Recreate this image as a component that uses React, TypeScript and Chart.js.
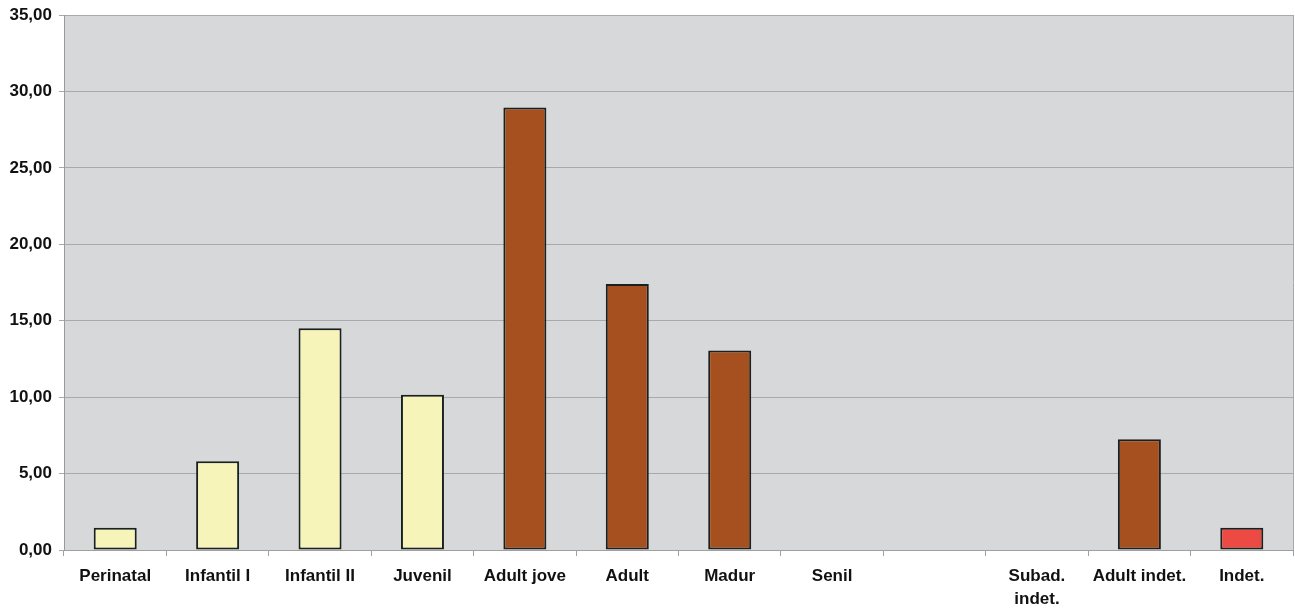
import React, { useEffect, useRef } from "react";
import { Chart, registerables } from "chart.js";

Chart.register(...registerables);

const categories: (string | string[])[] = [
  "Perinatal",
  "Infantil I",
  "Infantil II",
  "Juvenil",
  "Adult jove",
  "Adult",
  "Madur",
  "Senil",
  "",
  ["Subad.", "indet."],
  "Adult indet.",
  "Indet.",
];
const values: number[] = [1.45, 5.8, 14.5, 10.15, 28.95, 17.4, 13.05, 0, 0, 0, 7.25, 1.45];
const barColors: string[] = [
  "#f6f4b8",
  "#f6f4b8",
  "#f6f4b8",
  "#f6f4b8",
  "#a65020",
  "#a65020",
  "#a65020",
  "#a65020",
  "#a65020",
  "#f6f4b8",
  "#a65020",
  "#ee4a44",
];
const yMin = 0;
const yMax = 35;
const yStep = 5;

const plotBg = {
  id: "plotBg",
  beforeDraw(chart: any) {
    const { ctx, chartArea } = chart;
    ctx.save();
    ctx.fillStyle = "#d7d8da";
    ctx.fillRect(chartArea.left, chartArea.top, chartArea.right - chartArea.left, chartArea.bottom - chartArea.top);
    ctx.restore();
  },
  afterDraw(chart: any) {
    const { ctx, chartArea } = chart;
    ctx.save();
    ctx.strokeStyle = "#a9a9ab";
    ctx.lineWidth = 1;
    ctx.beginPath();
    ctx.moveTo(chartArea.right + 0.5, chartArea.top);
    ctx.lineTo(chartArea.right + 0.5, chartArea.bottom);
    ctx.stroke();
    ctx.restore();
  },
};

export default function App() {
  const ref = useRef<HTMLCanvasElement>(null);
  useEffect(() => {
    document.body.style.margin = "0";
    const chart = new Chart(ref.current!, {
      type: "bar",
      data: {
        labels: categories,
        datasets: [
          {
            data: values,
            backgroundColor: barColors,
            borderColor: "#1a2020",
            borderWidth: 2,
            borderSkipped: false,
            barPercentage: 0.42,
            categoryPercentage: 1,
          },
        ],
      },
      options: {
        animation: false,
        responsive: false,
        maintainAspectRatio: false,
        layout: { padding: { top: 15, right: 2, left: 0, bottom: 0 } },
        plugins: { legend: { display: false }, tooltip: { enabled: false } },
        scales: {
          x: {
            offset: true,
            grid: {
              offset: true,
              drawOnChartArea: false,
              drawTicks: true,
              tickLength: 6,
              color: "#a0a0a0",
            },
            border: { color: "#a0a0a0", width: 1 },
            ticks: {
              color: "#111",
              padding: 9,
              maxRotation: 0,
              autoSkip: false,
              font: { family: "'Liberation Sans', Arial, sans-serif", size: 17, weight: "bold", lineHeight: 1.35 },
            },
            afterFit(scale: any) {
              scale.height = 58;
            },
          },
          y: {
            min: yMin,
            max: yMax,
            grid: { color: "#a9a9ab", tickLength: 5, drawTicks: true },
            border: { color: "#9a9a9a", width: 1 },
            ticks: {
              stepSize: yStep,
              color: "#111",
              padding: 7,
              font: { family: "'Liberation Sans', Arial, sans-serif", size: 17, weight: "bold", lineHeight: 1 },
              callback: (v: any) => Number(v).toFixed(2).replace(".", ","),
            },
            afterFit(scale: any) {
              scale.width = 64;
              scale.paddingTop = 0;
              scale.paddingBottom = 0;
            },
          },
        },
      },
      plugins: [plotBg],
    });
    return () => chart.destroy();
  }, []);
  return (
    <div style={{ position: "absolute", left: 0, top: 0, width: 1295, height: 608, background: "#fff" }}>
      <canvas ref={ref} width={1295} height={608} style={{ width: 1295, height: 608 }} />
    </div>
  );
}
